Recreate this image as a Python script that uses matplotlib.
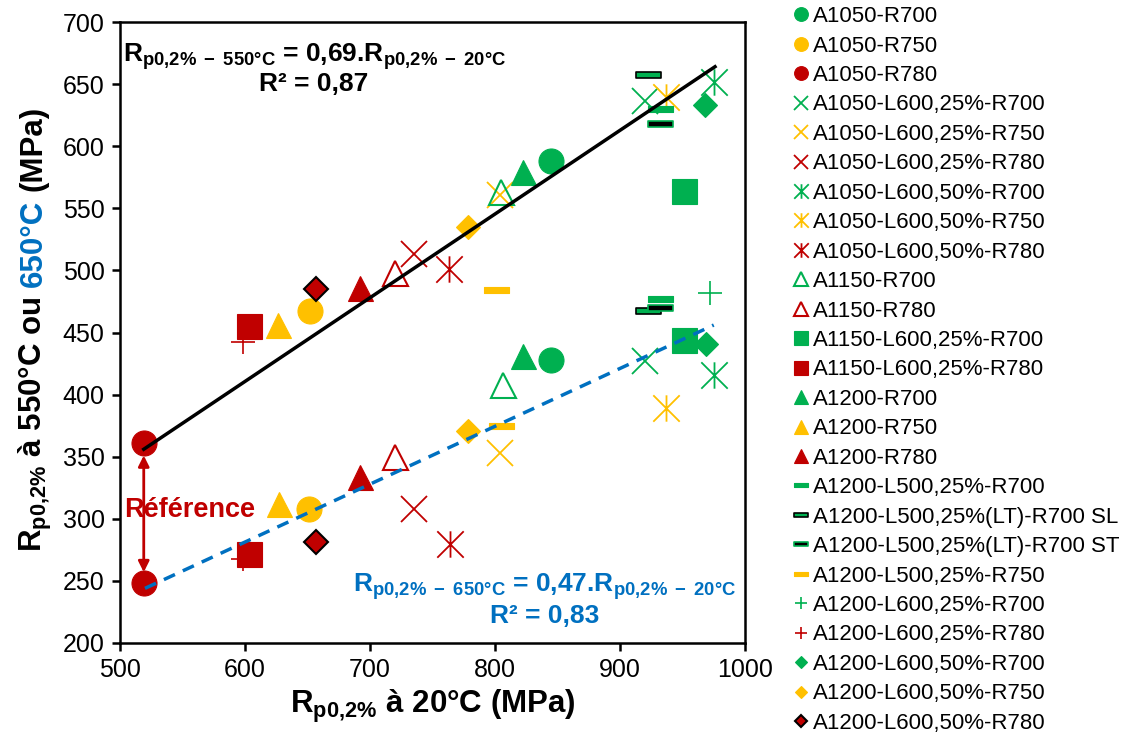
import matplotlib
matplotlib.use("Agg")
import matplotlib.pyplot as plt
from matplotlib.lines import Line2D
from matplotlib.path import Path

plt.rcParams['font.family'] = ['Liberation Sans', 'DejaVu Sans']
plt.rcParams['mathtext.fontset'] = 'custom'
plt.rcParams['mathtext.rm'] = 'Liberation Sans'
plt.rcParams['mathtext.bf'] = 'Liberation Sans:bold'
plt.rcParams['mathtext.it'] = 'Liberation Sans:italic'
plt.rcParams['mathtext.default'] = 'bf'

GREEN = '#00B050'
YELLOW = '#FFC000'
RED = '#C00000'
BLUE = '#0070C0'

# series labels (legend order)
labels = [
    'A1050-R700', 'A1050-R750', 'A1050-R780',
    'A1050-L600,25%-R700', 'A1050-L600,25%-R750', 'A1050-L600,25%-R780',
    'A1050-L600,50%-R700', 'A1050-L600,50%-R750', 'A1050-L600,50%-R780',
    'A1150-R700', 'A1150-R780',
    'A1150-L600,25%-R700', 'A1150-L600,25%-R780',
    'A1200-R700', 'A1200-R750', 'A1200-R780',
    'A1200-L500,25%-R700', 'A1200-L500,25%(LT)-R700 SL',
    'A1200-L500,25%(LT)-R700 ST', 'A1200-L500,25%-R750',
    'A1200-L600,25%-R700', 'A1200-L600,25%-R780',
    'A1200-L600,50%-R700', 'A1200-L600,50%-R750', 'A1200-L600,50%-R780',
]

# Rp0,2% at 20°C (x) and at 550°C / 650°C (y), one pair per series
x_vals = [
    [845, 845], [652, 651], [519, 519],
    [920, 920], [804, 804], [735, 735],
    [975, 975], [937, 937], [763, 764],
    [805, 806], [720, 720],
    [951, 951], [603, 603],
    [822, 822], [626, 627], [692, 692],
    [932, 932], [922, 922],
    [932, 932], [801, 805],
    [972], [598, 598],
    [968, 969], [778, 778], [657, 657],
]
y_vals = [
    [588, 428], [467, 308], [361, 248],
    [636, 427], [561, 353], [513, 308],
    [652, 416], [640, 389], [501, 280],
    [563, 408], [498, 350],
    [564, 444], [455, 272],
    [579, 431], [456, 312], [486, 334],
    [630, 477], [657, 467],
    [618, 470], [484, 375],
    [482], [442, 268],
    [633, 441], [535, 371], [485, 281],
]

# trend lines
trend_x = [519, 976]
trend_550 = [356, 664]
trend_650_x = [520, 975]
trend_650 = [244, 456]

# custom markers
star_path = Path([(-0.5, -0.5), (0.5, 0.5), (-0.5, 0.5), (0.5, -0.5), (0, -0.5), (0, 0.5)],
                 [Path.MOVETO, Path.LINETO, Path.MOVETO, Path.LINETO, Path.MOVETO, Path.LINETO])
dash_path = Path([(-0.5, -0.12), (0.5, -0.12), (0.5, 0.12), (-0.5, 0.12), (-0.5, -0.12)],
                 [Path.MOVETO, Path.LINETO, Path.LINETO, Path.LINETO, Path.CLOSEPOLY])


def fill(marker, c, ms, mec=None, mew=0.8):
    return dict(marker=marker, ms=ms, mfc=c, mec=mec or c, mew=mew)


def line(marker, c, ms, mew=1.3):
    return dict(marker=marker, ms=ms, mfc='none', mec=c, mew=mew)


styles = [
    fill('o', GREEN, 18), fill('o', YELLOW, 18), fill('o', RED, 18),
    line('x', GREEN, 19), line('x', YELLOW, 19), line('x', RED, 19),
    line(star_path, GREEN, 19), line(star_path, YELLOW, 19), line(star_path, RED, 19),
    line('^', GREEN, 18, 1.5), line('^', RED, 18, 1.5),
    fill('s', GREEN, 18), fill('s', RED, 18),
    fill('^', GREEN, 18), fill('^', YELLOW, 18), fill('^', RED, 18),
    fill(dash_path, GREEN, 18), fill(dash_path, GREEN, 18, 'black', 1.2),
    fill(dash_path, 'black', 18, GREEN, 1.2), fill(dash_path, YELLOW, 18),
    line('+', GREEN, 17, 1.2), line('+', RED, 17, 1.2),
    fill('D', GREEN, 12), fill('D', YELLOW, 12), fill('D', RED, 12, 'black', 1.5),
]

fig = plt.figure(figsize=(11.24, 7.38), dpi=100)
ax = fig.add_axes([120 / 1124, 95 / 738, 625 / 1124, 621 / 738])

for xs, ys, st in zip(x_vals, y_vals, styles):
    ax.plot(xs, ys, linestyle='none', **st)

ax.plot(trend_x, trend_550, color='black', lw=2.5)
ax.plot(trend_650_x, trend_650, color=BLUE, lw=2.5, linestyle=(0, (3.5, 2.5)))

ax.set_xlim(500, 1000)
ax.set_ylim(200, 700)
ax.set_xticks(range(500, 1001, 100))
ax.set_yticks(range(200, 701, 50))
ax.tick_params(axis='both', labelsize=18, direction='out', length=6, width=1.8, pad=5)
for sp in ax.spines.values():
    sp.set_linewidth(1.8)

ax.set_xlabel(r'R$_{p0{,}2\%}$ à 20°C (MPa)', fontsize=22.5, fontweight='bold', labelpad=4)

# equations
eq_550 = r'R$_{p0{,}2\%\ -\ 550°C}$ = 0,69.R$_{p0{,}2\%\ -\ 20°C}$'
eq_650 = r'R$_{p0{,}2\%\ -\ 650°C}$ = 0,47.R$_{p0{,}2\%\ -\ 20°C}$'
ax.text(0.312, 0.945, eq_550, transform=ax.transAxes, ha='center', va='center',
        fontsize=19, fontweight='bold')
ax.text(0.31, 0.9, 'R² = 0,87', transform=ax.transAxes, ha='center', va='center',
        fontsize=19, fontweight='bold')
ax.text(0.68, 0.09, eq_650, transform=ax.transAxes, ha='center', va='center',
        fontsize=19, fontweight='bold', color=BLUE)
ax.text(0.68, 0.043, 'R² = 0,83', transform=ax.transAxes, ha='center', va='center',
        fontsize=19, fontweight='bold', color=BLUE)

# reference arrow
ax.annotate('', xy=(519, 351), xytext=(519, 257),
            arrowprops=dict(arrowstyle='<|-|>', color=RED, lw=2, mutation_scale=16,
                            shrinkA=0, shrinkB=0))
ax.text(0.112, 0.214, 'Référence', transform=ax.transAxes, ha='center', va='center',
        fontsize=19.5, fontweight='bold', color=RED)

# legend with smaller markers
handles = []
for st in styles:
    s = dict(st)
    s['ms'] = st['ms'] * 0.55
    handles.append(Line2D([], [], linestyle='none', **s))
ax.legend(handles, labels, loc='upper left', bbox_to_anchor=(793 / 1124, 1 - 5 / 738),
          bbox_transform=fig.transFigure, frameon=False, fontsize=16,
          handlelength=0.6, handletextpad=0.25, labelspacing=0.38,
          borderaxespad=0, borderpad=0.05)

# y label with the blue 650°C part
fig.canvas.draw()
renderer = fig.canvas.get_renderer()
pieces = [(r'R$_{p0{,}2\%}$ à 550°C ou', 'black'), ('650°C', BLUE), ('(MPa)', 'black')]
widths = []
for s, c in pieces:
    t = fig.text(0, 0, s, fontsize=22.5, fontweight='bold')
    widths.append(t.get_window_extent(renderer).width)
    t.remove()
gap = 0.28 * 22.5 * 100 / 72
total = sum(widths) + gap * (len(pieces) - 1)
y0 = (738 - 329) - total / 2
for (s, c), w in zip(pieces, widths):
    fig.text(42 / 1124, y0 / 738, s, fontsize=22.5, fontweight='bold', color=c,
             rotation=90, rotation_mode='anchor', ha='left', va='baseline')
    y0 += w + gap

fig.savefig('out.png', dpi=100)
